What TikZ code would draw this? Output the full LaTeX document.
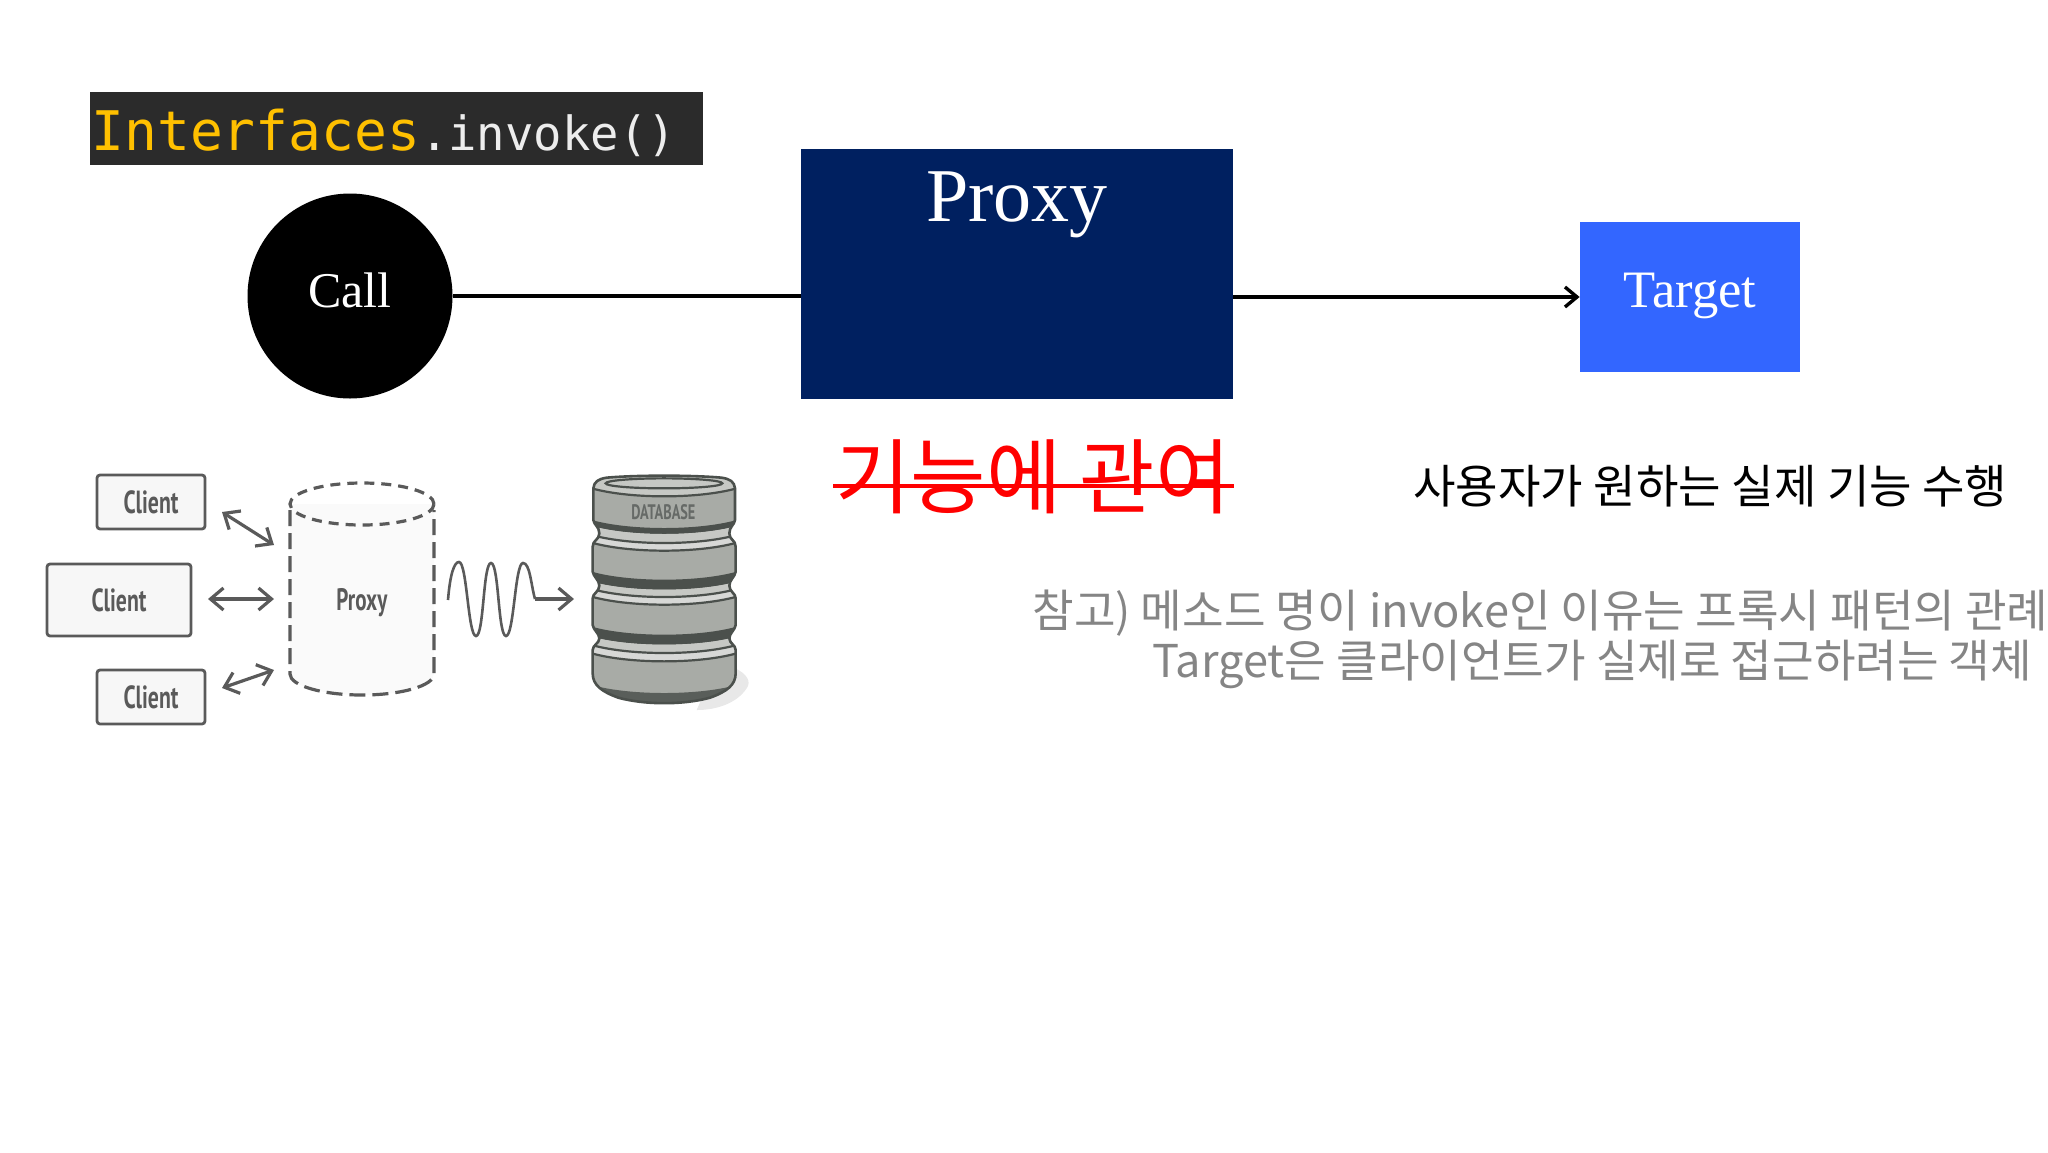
\documentclass[tikz,border=0pt]{standalone}
\usepackage{fontspec}
\usetikzlibrary{arrows.meta}
\setmainfont{Liberation Serif}
\newfontfamily\kofont{Noto Sans CJK KR}
\newfontfamily\monof{DejaVu Sans Mono}
\newfontfamily\clientf[FakeStretch=0.68]{PT Sans}
\definecolor{codebg}{HTML}{2B2B2B}
\definecolor{codeyel}{HTML}{FFC000}
\definecolor{codewht}{HTML}{EDEDED}
\definecolor{navybox}{HTML}{002060}
\definecolor{bluebox}{HTML}{3366FF}
\definecolor{sketch}{HTML}{5A5A5A}
\definecolor{dbfill}{HTML}{A8ABA6}
\definecolor{dbdark}{HTML}{4B504C}
\definecolor{dblight}{HTML}{C6C8C4}
\definecolor{notegray}{HTML}{858585}
\newcommand\dbsil{(70,70) .. controls (72,50) and (85,42) .. (110,38) .. controls (200,30) and (364,30) .. (455,38)
  .. controls (480,42) and (493,50) .. (495,70) -- (495,165) .. controls (493,180) and (478,185) .. (478,205)
  .. controls (478,225) and (497,225) .. (497,245) -- (497,320) .. controls (495,335) and (478,345) .. (478,362)
  .. controls (478,380) and (497,385) .. (497,400) -- (497,480) .. controls (495,495) and (478,505) .. (478,520)
  .. controls (478,535) and (497,540) .. (497,555) -- (497,625) .. controls (497,660) and (470,680) .. (420,698)
  .. controls (340,720) and (225,720) .. (145,698) .. controls (95,680) and (68,660) .. (68,625)
  -- (68,555) .. controls (68,540) and (88,535) .. (88,520) .. controls (88,505) and (70,495) .. (68,480)
  -- (68,400) .. controls (68,385) and (88,380) .. (88,362) .. controls (88,345) and (70,335) .. (68,320)
  -- (68,245) .. controls (68,225) and (88,225) .. (88,205) .. controls (88,185) and (72,180) .. (70,165) -- cycle}
\newcommand\dbband[3]{\fill[#3] (55,#1-28) .. controls (170,#1+8) and (395,#1+8) .. (510,#1-28) -- (510,#2-28) .. controls (395,#2+8) and (170,#2+8) .. (55,#2-28) -- cycle;}
\newcommand\dbline[1]{\draw[dbarc] (55,#1-28) .. controls (170,#1+8) and (395,#1+8) .. (510,#1-28);}
\tikzset{
  x=0.5pt,y=-0.5pt,
  clientbox/.style={draw=sketch,line width=1.4pt,fill=black!3,rounded corners=1.5pt,inner sep=0pt,text=sketch,font=\clientf\bfseries\fontsize{16}{16}\selectfont},
  sketcharrow/.style={draw=sketch,line width=1.6pt,{Straight Barb[length=6.5pt,width=11pt]}-{Straight Barb[length=6.5pt,width=11pt]}},
  mainline/.style={draw=black,line width=1.7pt},
  kotext/.style={font=\kofont\fontsize{22.6}{22.6}\selectfont,inner sep=0pt},
  dbarc/.style={draw=dbdark,line width=1.1pt},
}
\begin{document}
\begin{tikzpicture}
\useasboundingbox (0,0) rectangle (2048,1152);
% code strip
\node[fill=codebg,minimum width=306.5pt,minimum height=36.5pt,inner sep=0pt] (codebox) at (396.5,128.5) {};
\node[anchor=base west,inner sep=0pt] (codetext) at (91,150)
  {{\monof\fontsize{27.3}{27.3}\selectfont\color{codeyel}Interfaces}{\monof\fontsize{23.6}{23.6}\selectfont\color{codewht}.invoke()}};
% main row
\node[circle,fill=black,minimum size=102.5pt,inner sep=0pt] (call) at (350,296) {};
\node[text=white,font=\fontsize{25}{25}\selectfont,inner sep=0pt] (calltext) at (350,290) {Call};
\node[fill=navybox,minimum width=216pt,minimum height=125pt,inner sep=0pt] (proxy) at (1017,274) {};
\node[text=white,font=\fontsize{38}{38}\selectfont,inner sep=0pt] (proxytext) at (1017,205) {Proxy};
\node[fill=bluebox,minimum width=110pt,minimum height=75pt,inner sep=0pt] (target) at (1690,297) {};
\node[text=white,font=\fontsize{26.3}{26.3}\selectfont,inner sep=0pt] (targettext) at (1690,296) {Target};
\draw[mainline] (call.east) -- (proxy.west |- call.east);
\draw[mainline,-{Straight Barb[length=6pt,width=10pt]}] (proxy.east |- target.west) -- (target.west);
% texts
\node[kotext,font=\kofont\fontsize{41}{41}\selectfont,text=red] (kwan) at (1033,477) {기능에 관여};
\coordinate (strikeL) at (833,486);
\coordinate (strikeR) at (1234,486);
\draw[red,line width=2.4pt] (strikeL) -- (strikeR);
\node[kotext,font=\kofont\fontsize{23.1}{23.1}\selectfont,anchor=west] (want) at (1413,486) {사용자가 원하는 실제 기능 수행};
\node[kotext,anchor=west,text=notegray] (note1) at (1032,613) {참고) 메소드 명이 invoke인 이유는 프록시 패턴의 관례,};
\node[kotext,anchor=west,text=notegray] (note2) at (1152,664) {Target은 클라이언트가 실제로 접근하려는 객체};
% proxy sketch
\fill[black!2] (290,504) -- (434,504) -- (434,674) arc[start angle=0,end angle=180,x radius=72,y radius=21] -- cycle;
\draw[sketch,line width=1.6pt,dash pattern=on 5pt off 3.5pt] (362,504) ellipse[x radius=72,y radius=21];
\draw[sketch,line width=1.6pt,dash pattern=on 8pt off 3.5pt] (290,510) -- (290,674) arc[start angle=180,end angle=0,x radius=72,y radius=21] -- (434,510);
\node[text=sketch,font=\clientf\bfseries\fontsize{15.5}{15.5}\selectfont,inner sep=0pt] (pxlabel) at (362,603) {Proxy};
\node[clientbox,minimum width=54pt,minimum height=27pt] (c1) at (151,502) {Client};
\node[clientbox,minimum width=72pt,minimum height=36pt] (c2) at (119,600) {Client};
\node[clientbox,minimum width=54pt,minimum height=27pt] (c3) at (151,697) {Client};
\coordinate (a1s) at (222,512); \coordinate (a1e) at (274,545);
\coordinate (a2s) at (208,599); \coordinate (a2e) at (274,599);
\coordinate (a3s) at (222,688); \coordinate (a3e) at (274,670);
\draw[sketcharrow] (a1s) -- (a1e);
\draw[sketcharrow] (a2s) -- (a2e);
\draw[sketcharrow] (a3s) -- (a3e);
% wave
\coordinate (w0) at (448,600); \coordinate (w1) at (535,599); \coordinate (w2) at (574,599);
\draw[sketch,line width=1.3pt] (w0) .. controls (450,575) and (454,562) .. (459,562)
  .. controls (467,562) and (468,636) .. (476,636)
  .. controls (484,636) and (483,563) .. (491,563)
  .. controls (499,563) and (498,636) .. (506,636)
  .. controls (514,636) and (515,563) .. (523,563)
  .. controls (530,563) and (531,585) .. (535,599);
\draw[sketch,line width=1.6pt,-{Straight Barb[length=6.5pt,width=11pt]}] (w1) -- (w2);
% database
\begin{scope}[shift={(570,465)},x=0.16667pt,y=-0.16667pt]
  \fill[black!9] (400,690) -- (495,610) .. controls (530,625) and (545,650) .. (530,670) .. controls (500,715) and (440,735) .. (380,735) -- cycle;
  \fill[dbfill] \dbsil;
  \begin{scope}
    \clip \dbsil;
    \dbband{15}{95}{dblight}
    \dbband{190}{208}{dbdark}
    \dbband{208}{235}{dblight}
    \dbband{235}{258}{dblight!70!white}
    \dbband{345}{375}{dbdark}
    \dbband{375}{397}{dblight}
    \dbband{397}{420}{dblight!70!white}
    \dbband{510}{540}{dbdark}
    \dbband{540}{565}{dblight}
    \dbband{565}{590}{dblight!70!white}
    \dbband{685}{730}{dbdark!85!dbfill}
    \dbline{95}\dbline{235}\dbline{258}\dbline{397}\dbline{420}\dbline{565}\dbline{590}
  \end{scope}
  \draw[dbarc,line width=1.3pt] \dbsil;
  \draw[dbarc,fill=dblight] (282,55) ellipse[x radius=175,y radius=15];
  \node[text=dbdark!85!white,font=\clientf\bfseries\fontsize{10.5}{10.5}\selectfont,inner sep=0pt] (dblabel) at (280,142) {DATABASE};
\end{scope}
\end{tikzpicture}
\end{document}
